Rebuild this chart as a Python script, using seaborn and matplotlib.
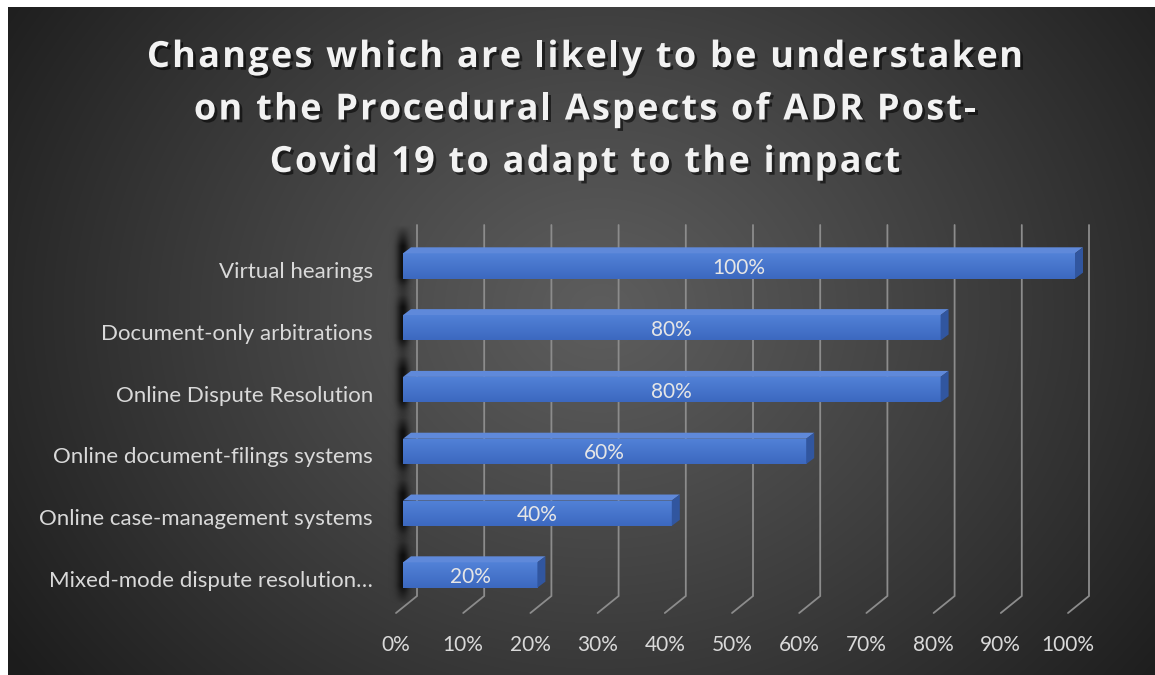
import numpy as np
import pandas as pd
import seaborn as sns
import matplotlib
matplotlib.use("Agg")
import matplotlib.pyplot as plt
import matplotlib.patheffects as pe
from matplotlib.patches import Polygon
from matplotlib.colors import LinearSegmentedColormap
from matplotlib.font_manager import FontProperties

# ---- data ----
categories = [
    "Virtual hearings",
    "Document-only arbitrations",
    "Online Dispute Resolution",
    "Online document-filings systems",
    "Online case-management systems",
    "Mixed-mode dispute resolution\u2026",
]
shares = [1.00, 0.80, 0.80, 0.60, 0.40, 0.20]
tick_values = [0.0, 0.1, 0.2, 0.3, 0.4, 0.5, 0.6, 0.7, 0.8, 0.9, 1.0]
tick_labels = ["0%", "10%", "20%", "30%", "40%", "50%", "60%", "70%", "80%", "90%", "100%"]
title_lines = [
    "Changes which are likely to be understaken",
    "on the Procedural Aspects of ADR Post-",
    "Covid 19 to adapt to the impact",
]

df = pd.DataFrame({"category": categories, "share": shares})

W, H, DPI = 1155, 675, 100
sns.set_theme(style="white")
plt.rcParams["font.family"] = ["Lato", "DejaVu Sans"]

fig = plt.figure(figsize=(W / DPI, H / DPI), dpi=DPI, facecolor="white")


def px_rect(x0, y0, x1, y1):
    return [x0 / W, 1 - y1 / H, (x1 - x0) / W, (y1 - y0) / H]


# ---- radial dark background ----
bg = fig.add_axes(px_rect(8, 7, W, H))
bg.axis("off")
yy, xx = np.mgrid[7:H, 8:W].astype(float)
r = np.hypot(xx - 600, (yy - 310) / 0.85)
t = np.clip(r / 720, 0, 1) ** 1.1
v = 0.365 - (0.365 - 0.11) * t
bg.imshow(np.dstack([v, v, v]), aspect="auto", interpolation="bilinear")

# ---- plot area (coordinates of the bars' front faces) ----
AX_L, AX_T, AX_R, AX_B = 403, 225, 1075, 596
ax = fig.add_axes(px_rect(AX_L, AX_T, AX_R, AX_B))
YTOP, YBOT = -0.663, 5.34
sx = 1.0 / (AX_R - AX_L)              # data units per pixel (x)
sy = (YBOT - YTOP) / (AX_B - AX_T)    # data units per pixel (y, downward)

BAR_H = 0.41
DX, DY = 8, 6                          # depth offset of the 3D faces in pixels

# soft depth shadows cast on the left wall
for i in range(len(categories)):
    y0 = i - BAR_H / 2 - 28 * sy
    y1 = i + BAR_H / 2 + 16 * sy
    nx, ny = 60, 160
    gx = np.linspace(-15, 15, nx)
    gy = np.linspace(0, 1, ny)
    ax_prof = np.exp(-0.5 * (gx / 4.5) ** 2)
    ay_prof = np.clip(gy / 0.3, 0, 1) * np.clip((1 - gy) / 0.25, 0, 1)
    alpha = 0.95 * np.outer(ay_prof, ax_prof)
    rgba = np.zeros((ny, nx, 4))
    rgba[..., 0:3] = 0.05
    rgba[..., 3] = alpha
    ax.imshow(rgba, extent=(-15 * sx, 15 * sx, y1, y0),
              origin="upper", aspect="auto", zorder=1, clip_on=False,
              interpolation="antialiased")

# back wall gridlines with floor returns
for tv in tick_values:
    xb = tv + 14 * sx
    ax.plot([xb, xb, xb - 21 * sx], [YTOP, YBOT, YBOT + 17 * sy],
            color="#8c8c8c", lw=1.3, clip_on=False, zorder=0.5,
            solid_joinstyle="miter")

sns.barplot(data=df, x="share", y="category", orient="h", width=BAR_H,
            color="#4472c4", saturation=1, ax=ax, zorder=3)

grad_cmap = LinearSegmentedColormap.from_list("barface", ["#5282d8", "#3c68bf"])
for i, p in enumerate(ax.patches):
    x0, y0 = p.get_x(), p.get_y()
    x1, y1 = x0 + p.get_width(), y0 + p.get_height()
    p.set_edgecolor("none")
    img = ax.imshow(np.linspace(0, 1, 64).reshape(-1, 1), cmap=grad_cmap,
                    extent=(x0, x1, y1, y0), origin="upper", aspect="auto",
                    zorder=3.1, interpolation="bilinear")
    img.set_clip_path(p)
    top = Polygon([(x0, y0), (x1, y0), (x1 + DX * sx, y0 - DY * sy),
                   (x0 + DX * sx, y0 - DY * sy)], closed=True,
                  facecolor="#5f89da", edgecolor="none", zorder=3.2, clip_on=False)
    side = Polygon([(x1, y0), (x1 + DX * sx, y0 - DY * sy),
                    (x1 + DX * sx, y1 - DY * sy), (x1, y1)], closed=True,
                   facecolor="#31569f", edgecolor="none", zorder=3.2, clip_on=False)
    ax.add_patch(top)
    ax.add_patch(side)
    ax.text((x0 + x1) / 2, (y0 + y1) / 2 + 2 * sy, f"{shares[i]:.0%}",
            ha="center", va="center", color="#e6e6e6", fontsize=15, zorder=4)

ax.set_xlim(0, 1)
ax.set_ylim(YBOT, YTOP)
ax.axis("off")

# category labels
for i, cat in enumerate(categories):
    ax.text(-30 * sx, i + 6 * sy, cat, ha="right", va="center",
            color="#d9d9d9", fontsize=16, clip_on=False)

# value axis labels along the floor front edge
for tv, lab in zip(tick_values, tick_labels):
    ax.text(tv - 7 * sx, YBOT + 49 * sy, lab, ha="center", va="center",
            color="#d9d9d9", fontsize=15, clip_on=False)

# title, letter-spaced, with a soft drop shadow
shadow = [pe.SimplePatchShadow(offset=(2, -2), shadow_rgbFace="black", alpha=0.55),
          pe.Normal()]
title_prop = FontProperties(family=["Open Sans", "DejaVu Sans"], weight="bold", size=26)
renderer = fig.canvas.get_renderer()


def text_width(s):
    w, _, _ = renderer.get_text_width_height_descent(s, title_prop, ismath=False)
    return w


TRACK = 2.2                              # extra pixels between letters
bar_w = text_width("|")
for k, line in enumerate(title_lines):
    offs = [text_width(line[:j] + "|") - bar_w if j else 0.0 for j in range(len(line))]
    total = text_width(line) + TRACK * (len(line) - 1)
    x_start = 585 - total / 2
    base = 67 + 52.5 * k
    for j, ch in enumerate(line):
        if ch == " ":
            continue
        fig.text((x_start + offs[j] + TRACK * j) / W, 1 - base / H, ch,
                 ha="left", va="baseline", color="#f2f2f2",
                 fontproperties=title_prop, path_effects=shadow)

fig.savefig("out.png", dpi=DPI, facecolor=fig.get_facecolor())
